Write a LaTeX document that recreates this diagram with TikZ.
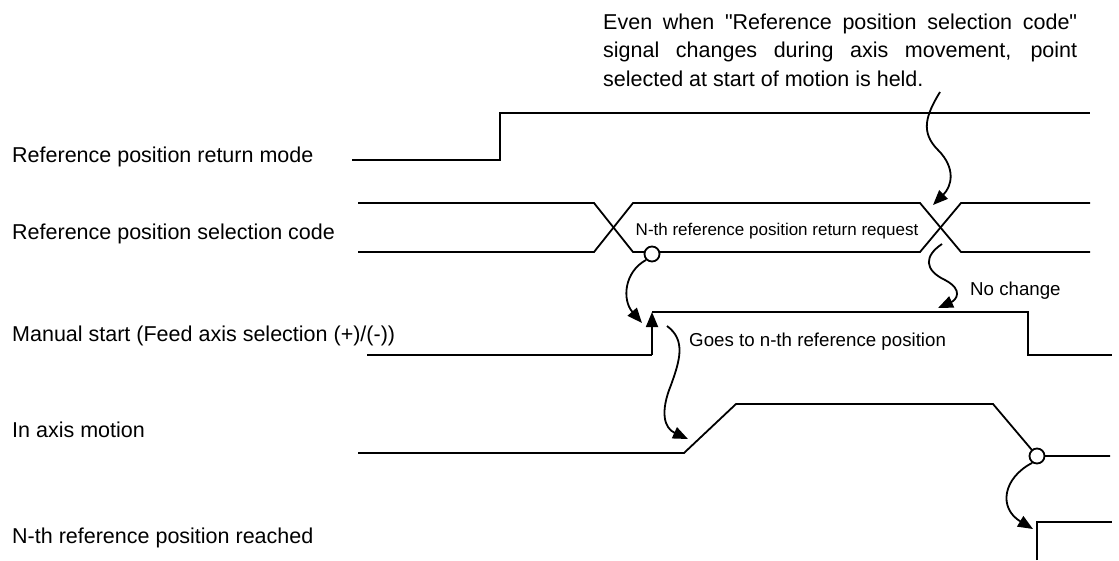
\documentclass[tikz,border=0pt]{standalone}
\usepackage{fontspec}
\setmainfont{Liberation Sans}
\usetikzlibrary{arrows.meta}
\begin{document}
\begin{tikzpicture}[x=1pt,y=-1pt,
  sig/.style={line width=1.8pt, line join=miter},
  lbl/.style={anchor=base west, inner sep=0pt, font=\fontsize{21.5}{26}\selectfont},
  smalltxt/.style={anchor=base, inner sep=0pt, font=\fontsize{17}{20}\selectfont},
  midtxt/.style={anchor=base west, inner sep=0pt, font=\fontsize{18.7}{23}\selectfont},
  arr/.style={line width=1.8pt, -{Triangle[length=15pt,width=12pt]}},
  dot/.style={circle, draw, line width=1.8pt, fill=white, minimum size=15pt, inner sep=0pt}]
\useasboundingbox (0,0) rectangle (1119,560);

% annotation
\node[lbl] (ann1) at (603,29) {\makebox[474pt][s]{Even when \textquotedbl Reference position selection code\textquotedbl}};
\node[lbl] (ann2) at (603,57.5) {\makebox[474pt][s]{signal changes during axis movement, point}};
\node[lbl] (ann3) at (603,86) {selected at start of motion is held.};

% labels
\node[lbl] (l1) at (12,162) {Reference position return mode};
\node[lbl] (l2) at (12,239) {Reference position selection code};
\node[lbl] (l3) at (12,341) {Manual start (Feed axis selection (+)/(-))};
\node[lbl] (l4) at (12,437) {In axis motion};
\node[lbl] (l5) at (12,543) {N-th reference position reached};

% return mode
\draw[sig] (352,160) -- (500,160) -- (500,113) -- (1090,113);

% selection code bus
\draw[sig] (358,203) -- (594,203) -- (633,252) -- (920,252) -- (961,203) -- (1090,203);
\draw[sig] (358,252) -- (594,252) -- (633,203) -- (920,203) -- (961,252) -- (1090,252);
\node[smalltxt] (req) at (777,235) {N-th reference position return request};

% manual start
\coordinate (ms1) at (652,355);
\coordinate (ms2) at (652,312);
\draw[sig] (367,355) -- (ms1);
\draw[arr] (ms1) -- (ms2);
\draw[sig] (ms2) -- (1028,312) -- (1028,355) -- (1112,355);
\node[midtxt] (goes) at (689,346) {Goes to n-th reference position};

% in axis motion
\draw[sig] (358,453) -- (684,453) -- (736,404) -- (993,404) -- (1037,456) -- (1110,456);

% reached
\draw[sig] (1037,560) -- (1037,522) -- (1112,522);

% circles
\node[dot] (c1) at (652,254) {};
\node[dot] (c2) at (1037,456) {};

% arrows
\coordinate (a1) at (642,323);
\draw[arr] (c1.225) .. controls (624,272) and (622,300) .. (a1);

\coordinate (a2s) at (667,326);
\coordinate (a2m) at (671,385);
\coordinate (a2) at (688,439);
\draw[arr] (a2s) .. controls (686,340) and (680,360) .. (a2m) .. controls (660,412) and (664,428) .. (a2);

\coordinate (a3s) at (940,92);
\coordinate (a3m) at (938,150);
\coordinate (a3) at (933,205);
\draw[arr] (a3s) .. controls (926,115) and (920,132) .. (a3m) .. controls (956,168) and (952,186) .. (a3);

\coordinate (a4s) at (942,244);
\coordinate (a4m) at (945,280);
\coordinate (a4) at (938,308);
\draw[arr] (a4s) .. controls (924,256) and (924,270) .. (a4m) .. controls (964,290) and (956,300) .. (a4);
\node[midtxt] (nochg) at (970,295) {No change};

\coordinate (a5) at (1033,529);
\draw[arr] (c2.235) .. controls (1003,478) and (998,508) .. (a5);
\end{tikzpicture}
\end{document}
